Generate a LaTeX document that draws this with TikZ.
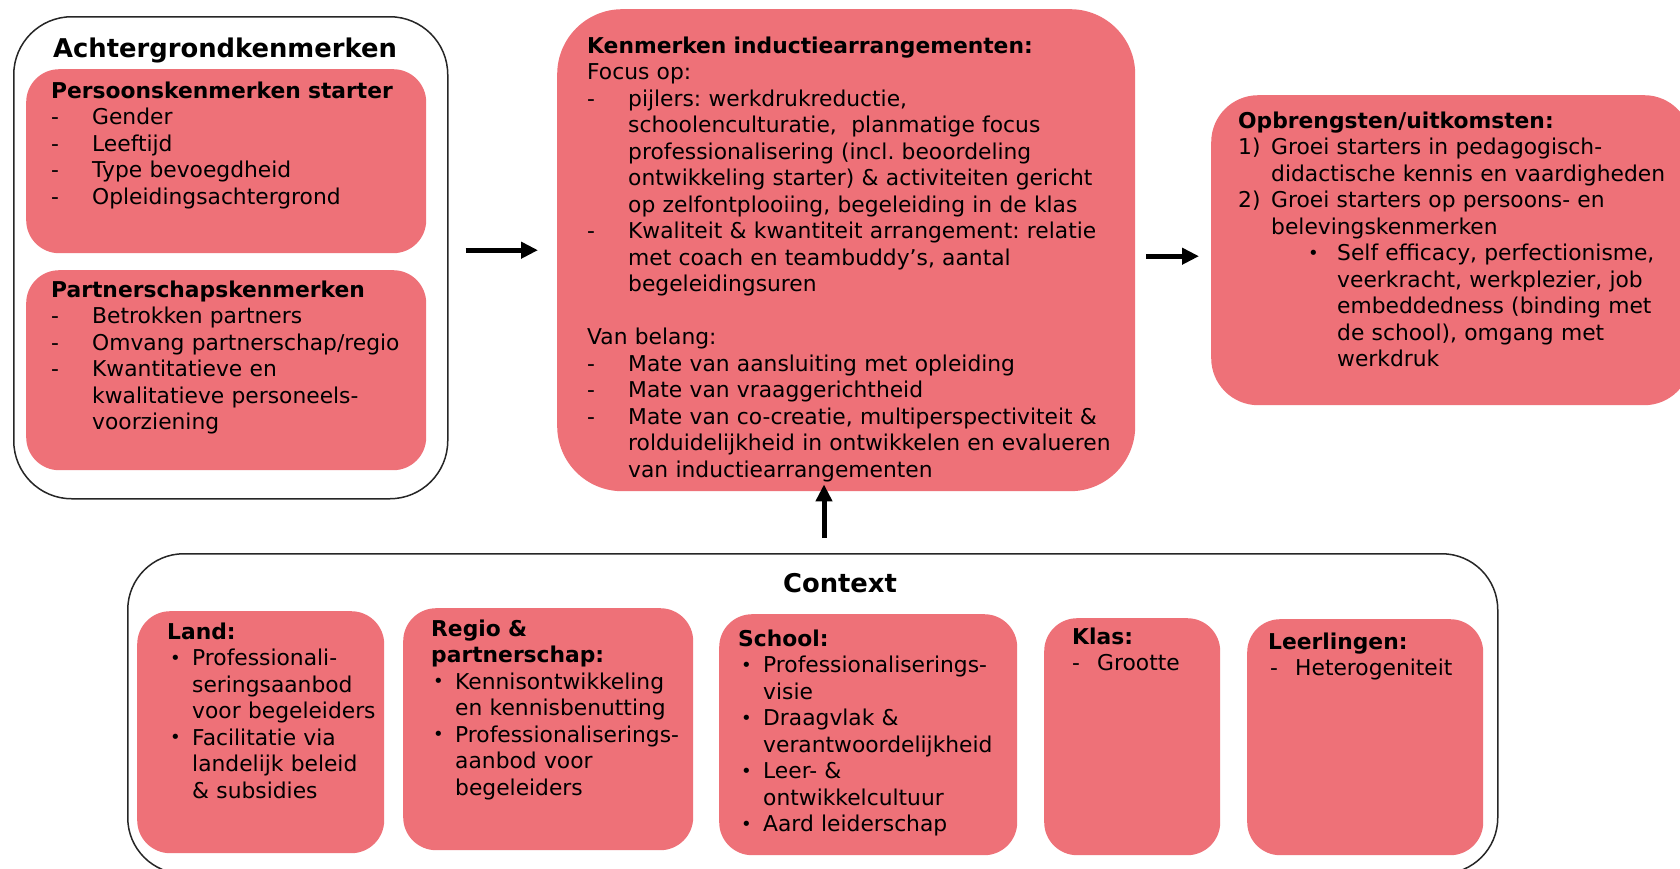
\documentclass[tikz,border=0pt]{standalone}
\usepackage{fontspec}
\setmainfont{DejaVu Sans}
\usetikzlibrary{arrows.meta}

\definecolor{roze}{RGB}{238,113,120}

% one item with a hanging indent: [indent]{label}{text}
\newcommand{\punt}[3][41pt]{\par\hangindent=#1\hangafter=1\noindent\makebox[#1][l]{#2}{\let\\\newline #3}\par}
\newcommand{\stip}{\raisebox{1.5pt}{\fontsize{18pt}{18pt}\selectfont\textbullet}}
\newcommand{\bol}{\hspace*{3pt}\stip}
\newcommand{\grootkop}{\fontsize{25.8pt}{31pt}\selectfont\bfseries}

\begin{document}
\frenchspacing
\begin{tikzpicture}[x=1pt, y=-1pt,
    rozevlak/.style={fill=roze, rounded corners=33pt, anchor=north west, inner sep=0pt},
    kader/.style={draw=black!85, line width=1.5pt, rounded corners=#1, anchor=north west, inner sep=0pt},
    tekst/.style={anchor=base west, inner sep=0pt, text width=620pt, align=left,
        font=\fontsize{21.8pt}{26.5pt}\selectfont},
    pijl/.style={line width=5pt, -{Triangle[length=17pt, width=16pt]}}]

    \fill[white] (0,0) rectangle (1680,868);
    \useasboundingbox (0,0) rectangle (1680,868);

    % grote kaders
    \node[kader=58pt, minimum width=434, minimum height=482] (achter) at (13,16) {};
    \node[kader=56pt, minimum width=1370, minimum height=320] (context) at (127,553) {};

    % roze vlakken
    \foreach \naam/\x/\y/\w/\h in {
        pers/26/69/400/184,
        partn/26/270/400/200,
        land/137/611/247/242,
        regio/403/608/290/242,
        school/719/614/298/241,
        klas/1044/618/176/237,
        leerl/1247/619/236/236
    }{
        \node[rozevlak, minimum width=\w, minimum height=\h] (\naam) at (\x,\y) {};
    }
    \node[rozevlak, rounded corners=65pt, minimum width=578, minimum height=482] (induct) at (557,9) {};
    \node[rozevlak, rounded corners=47pt, minimum width=480, minimum height=310] (opbr) at (1211,95) {};

    % teksten
    \node[tekst] (achtertitel) at (53,57) {\grootkop Achtergrondkenmerken};
    \node[tekst] (perstekst) at (51,98) {\textbf{Persoonskenmerken starter}
        \punt{-}{Gender}
        \punt{-}{Leeftijd}
        \punt{-}{Type bevoegdheid}
        \punt{-}{Opleidingsachtergrond}};
    \node[tekst] (partntekst) at (51,297) {\textbf{Partnerschapskenmerken}
        \punt{-}{Betrokken partners}
        \punt{-}{Omvang partnerschap/regio}
        \punt{-}{Kwantitatieve en\\ kwalitatieve personeels-\\ voorziening}};

    \node[tekst] (inducttekst) at (587,53) {\textbf{Kenmerken inductiearrangementen:}\par
        Focus op:
        \punt{-}{pijlers: werkdrukreductie,\\ schoolenculturatie,\ \ planmatige focus\\ professionalisering (incl. beoordeling\\ ontwikkeling starter) \& activiteiten gericht\\ op zelfontplooiing, begeleiding in de klas}
        \punt{-}{Kwaliteit \& kwantiteit arrangement: relatie\\ met coach en teambuddy’s, aantal\\ begeleidingsuren}
        \vspace{26.5pt}
        Van belang:
        \punt{-}{Mate van aansluiting met opleiding}
        \punt{-}{Mate van vraaggerichtheid}
        \punt{-}{Mate van co-creatie, multiperspectiviteit \&\\ rolduidelijkheid in ontwikkelen en evalueren\\ van inductiearrangementen}};

    \node[tekst] (opbrtekst) at (1238,128) {\textbf{Opbrengsten/uitkomsten:}
        \punt[33pt]{1)}{Groei starters in pedagogisch-\\ didactische kennis en vaardigheden}
        \punt[33pt]{2)}{Groei starters op persoons- en\\ belevingskenmerken}
        \punt[99pt]{\hspace*{70pt}\stip}{Self efficacy, perfectionisme,\\ veerkracht, werkplezier, job\\ embeddedness (binding met\\ de school), omgang met\\ werkdruk}};

    \node[tekst, anchor=base, text width=] (contexttitel) at (840,592) {\grootkop Context};

    \node[tekst] (landtekst) at (167,639) {\textbf{Land:}
        \punt[25pt]{\bol}{Professionali-\\ seringsaanbod\\ voor begeleiders}
        \punt[25pt]{\bol}{Facilitatie via\\ landelijk beleid\\ \& subsidies}};
    \node[tekst] (regiotekst) at (431,636) {\textbf{Regio \&\\ partnerschap:}
        \punt[24pt]{\hspace*{2pt}\stip}{Kennisontwikkeling\\ en kennisbenutting}
        \punt[24pt]{\hspace*{2pt}\stip}{Professionaliserings-\\ aanbod voor\\ begeleiders}};
    \node[tekst] (schooltekst) at (738,646) {\textbf{School:}
        \punt[25pt]{\bol}{Professionaliserings-\\ visie}
        \punt[25pt]{\bol}{Draagvlak \&\\ verantwoordelijkheid}
        \punt[25pt]{\bol}{Leer- \&\\ ontwikkelcultuur}
        \punt[25pt]{\bol}{Aard leiderschap}};
    \node[tekst] (klastekst) at (1072,644) {\textbf{Klas:}
        \punt[25pt]{-}{Grootte}};
    \node[tekst] (leerltekst) at (1268,649) {\textbf{Leerlingen:}
        \punt[27pt]{\hspace*{2pt}-}{Heterogeniteit}};

    % pijlen
    \draw[pijl, shorten <=17pt, shorten >=19pt] (achter.east |- induct.west) -- (induct.west);
    \draw[pijl, shorten <=11pt, shorten >=12pt] ([yshift=-6pt]induct.east) -- ([yshift=-6pt]opbr.west);
    \coordinate (pijlvoet) at (824,538);
    \draw[pijl, shorten >=-7pt] (pijlvoet) -- (pijlvoet |- induct.south);
\end{tikzpicture}
\end{document}
